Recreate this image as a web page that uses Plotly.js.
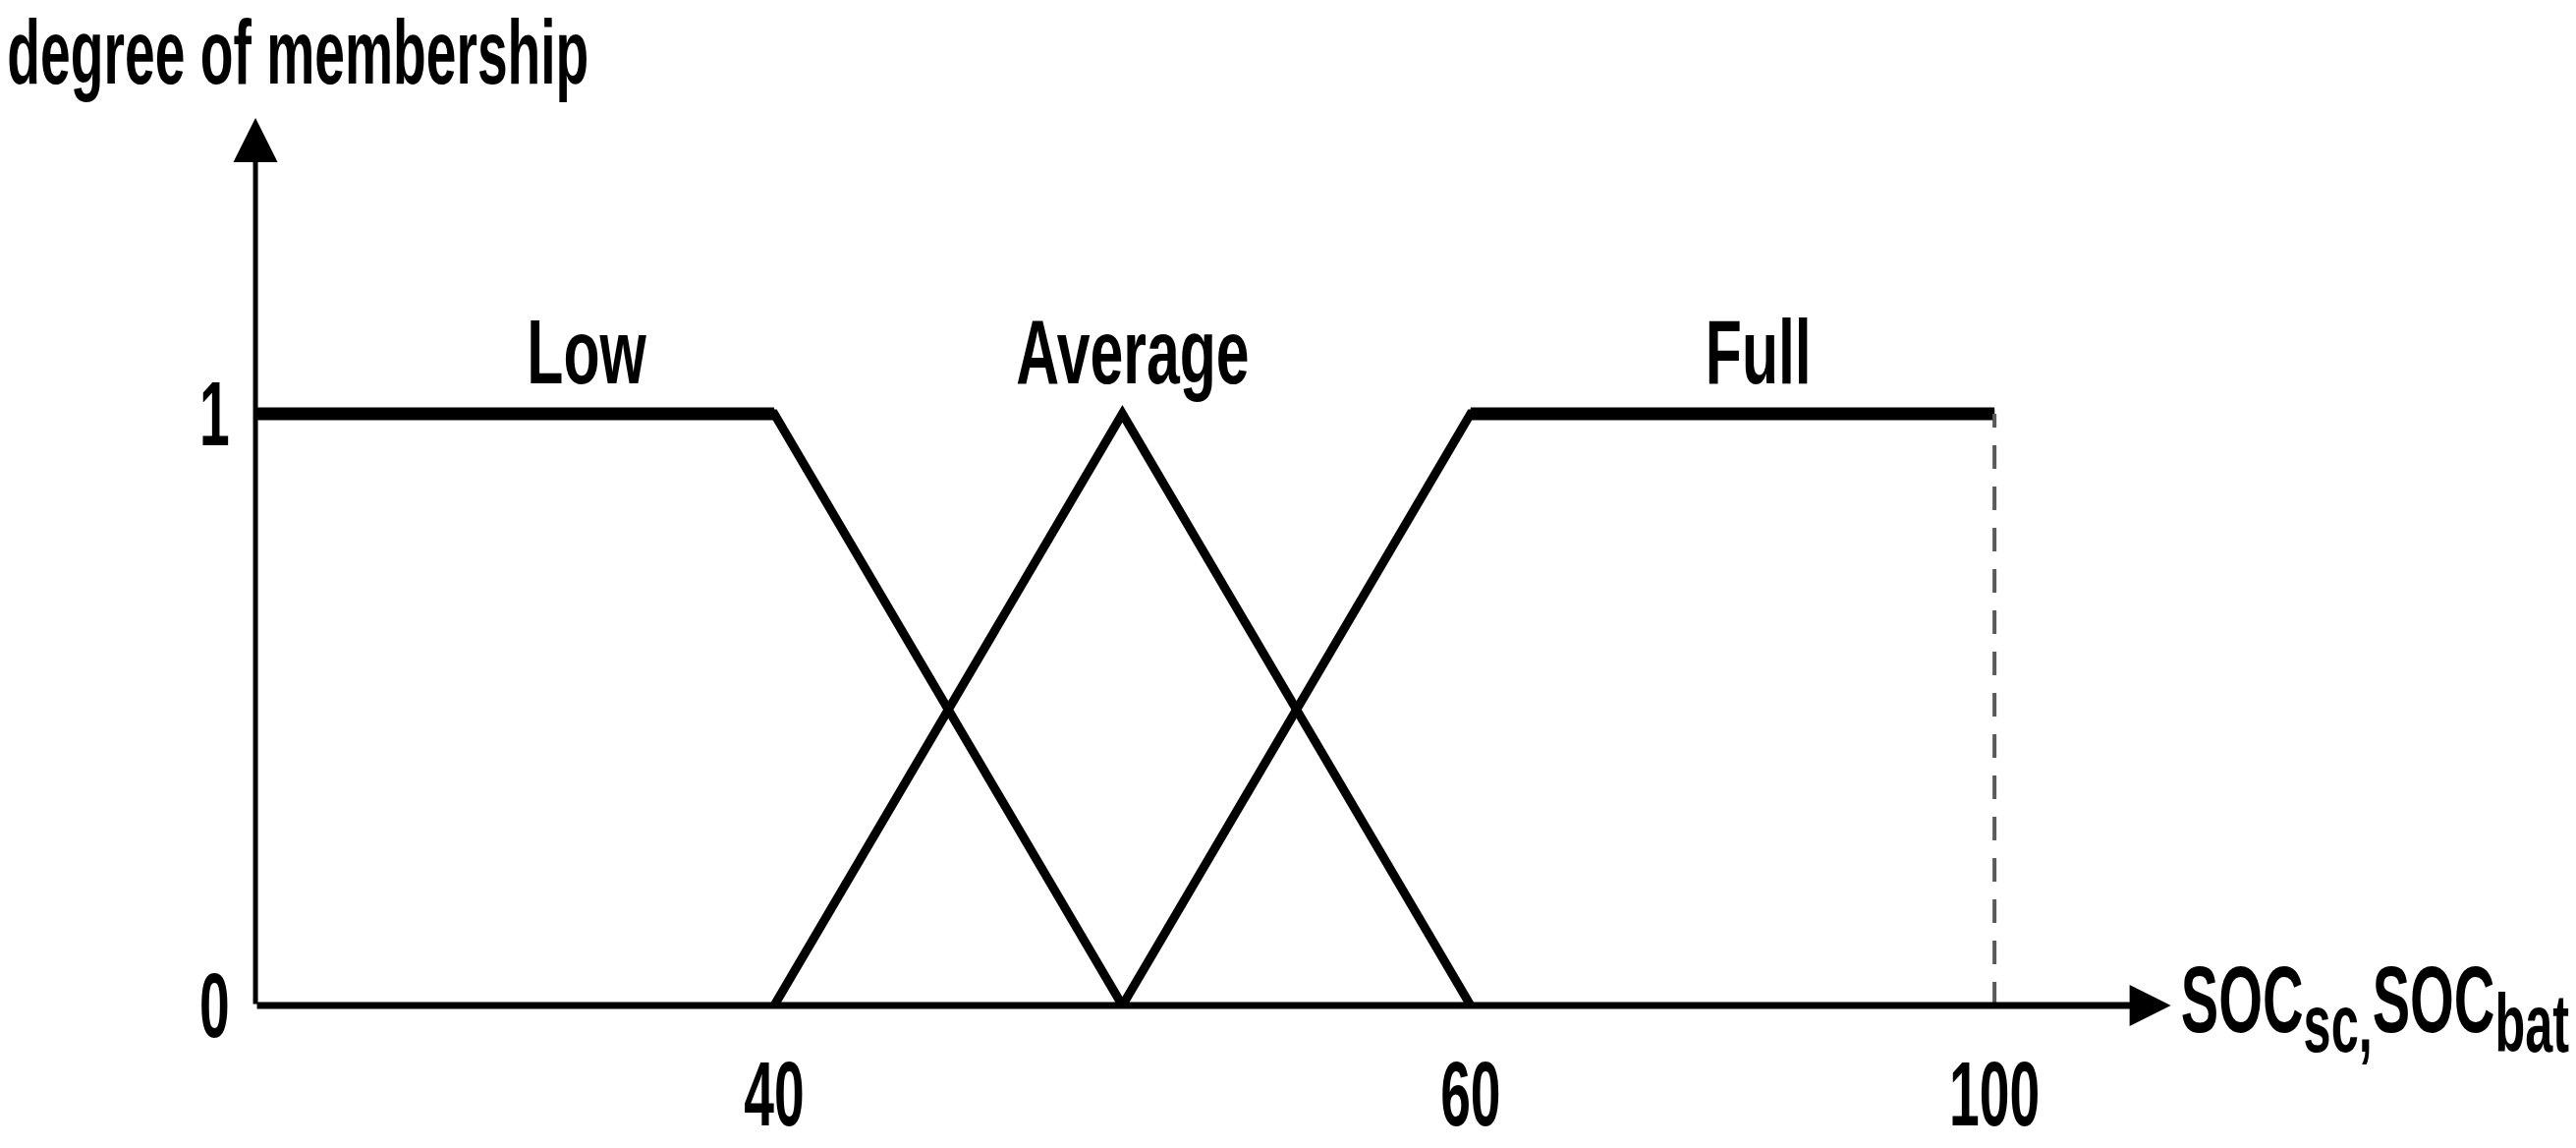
<!DOCTYPE html>
<html>
<head>
<meta charset="utf-8">
<script src="https://cdn.plot.ly/plotly-3.0.1.min.js"></script>
<style>
  html, body { margin: 0; padding: 0; background: #ffffff; }
  #chart { width: 2622px; height: 1168px; }
  /* the original lettering is a tall, condensed bold face */
  #chart text.annotation-text, #chart g.xtick, #chart g.ytick {
    transform-box: fill-box;
    transform-origin: center;
    transform: scaleX(0.6);
  }
</style>
</head>
<body>
<div id="chart"></div>
<script>
// ---- data -------------------------------------------------------------
// membership functions (SOC in %, degree of membership 0..1)
const lowSoc = [0, 40, 50];
const lowMu  = [1, 1, 0];
const avgSoc = [40, 50, 60];
const avgMu  = [0, 1, 0];
const fullSoc = [50, 60, 100];
const fullMu  = [0, 1, 1];
const fullLimitSoc = [100, 100];
const fullLimitMu  = [0, 1];

const setNames = ["Low", "Average", "Full"];

const xTickSoc  = [40, 60, 100];
const xTickText = ["40", "60", "100"];
const yTickVals = [0, 1];
const yTickText = ["0", "1"];

// the figure's SOC axis is schematic (not to scale): piecewise-linear knots
const socKnots  = [0, 40, 60, 100];
const axisKnots = [0, 40, 93.7, 134.1];

// ---- scale helper ------------------------------------------------------
function warp(s) {
  for (let i = 0; i < socKnots.length - 1; i++) {
    const a = socKnots[i], b = socKnots[i + 1];
    if (s <= b || i === socKnots.length - 2) {
      return axisKnots[i] + (s - a) * (axisKnots[i + 1] - axisKnots[i]) / (b - a);
    }
  }
}
const W = arr => arr.map(warp);

// ---- layout options ----------------------------------------------------
const FONT = "Liberation Sans, Arial, sans-serif";
const labelSoc = [25.5, 50.3, 82];
const xArrowEnd = 147.7;   // axis units
const yArrowEnd = 1.5;

const black = "#000000";
const slopeW = 9, plateauW = 13;

const traces = [
  { x: W(lowSoc),  y: lowMu,  mode: "lines", line: { color: black, width: slopeW } },
  { x: W(avgSoc),  y: avgMu,  mode: "lines", line: { color: black, width: slopeW } },
  { x: W(fullSoc), y: fullMu, mode: "lines", line: { color: black, width: slopeW } },
  // heavier plateaus
  { x: W(lowSoc.slice(0, 2)),  y: lowMu.slice(0, 2),  mode: "lines", line: { color: black, width: plateauW } },
  { x: W(fullSoc.slice(1, 3)), y: fullMu.slice(1, 3), mode: "lines", line: { color: black, width: plateauW } },
  { x: W(fullLimitSoc), y: fullLimitMu, mode: "lines",
    line: { color: "#5a5a5a", width: 4, dash: "24px,18px" } }
];

const annotations = [];
setNames.forEach((n, i) => {
  annotations.push({
    x: warp(labelSoc[i]), y: 1, xref: "x", yref: "y",
    text: n, showarrow: false, xanchor: "center", yanchor: "bottom", yshift: 10,
    font: { family: FONT, size: 92, color: black, weight: "bold" }
  });
});
annotations.push({
  xref: "paper", yref: "paper", x: 303 / 2622, y: 1, xanchor: "center", yanchor: "top",
  text: "degree of membership", showarrow: false,
  font: { family: FONT, size: 92, color: black, weight: "bold" }
});
annotations.push({
  xref: "paper", yref: "paper", x: 2417 / 2622, y: 0.1772, xanchor: "center", yanchor: "top",
  text: 'SOC<sub><span style="font-size:84px">sc,</span></sub>SOC<sub><span style="font-size:84px">bat</span></sub>',
  showarrow: false,
  font: { family: FONT, size: 96, color: black, weight: "bold" }
});
// axis arrows
annotations.push({
  x: xArrowEnd, y: 0, ax: 0, ay: 0, xref: "x", yref: "y", axref: "x", ayref: "y",
  text: "", showarrow: true, arrowhead: 2, arrowsize: 1.2, arrowwidth: 7,
  arrowcolor: black, standoff: 0
});
annotations.push({
  x: 0, y: yArrowEnd, ax: 0, ay: 0, xref: "x", yref: "y", axref: "x", ayref: "y",
  text: "", showarrow: true, arrowhead: 2, arrowsize: 1.8, arrowwidth: 5,
  arrowcolor: black, standoff: 0
});

const layout = {
  width: 2622, height: 1168,
  margin: { l: 0, r: 0, t: 0, b: 0, pad: 0 },
  paper_bgcolor: "#ffffff", plot_bgcolor: "#ffffff",
  showlegend: false,
  xaxis: {
    range: [-19.7, 178.94], anchor: "free", position: 145 / 1168,
    showgrid: false, zeroline: false, showline: false, ticks: "",
    tickmode: "array", tickvals: W(xTickSoc), ticktext: xTickText,
    ticklabelstandoff: 29,
    tickfont: { family: FONT, size: 92, color: black, weight: "bold" }
  },
  yaxis: {
    range: [-0.2409, 1.6993], anchor: "free", position: 260 / 2622,
    showgrid: false, zeroline: false, showline: false, ticks: "",
    tickmode: "array", tickvals: yTickVals, ticktext: yTickText,
    ticklabelstandoff: 16,
    tickfont: { family: FONT, size: 92, color: black, weight: "bold" }
  },
  annotations: annotations
};

Plotly.newPlot("chart", traces, layout, { displayModeBar: false, staticPlot: true })
  .then(gd => {
    // the set names are set a little wider than the other lettering
    gd.querySelectorAll("g.annotation").forEach(g => {
      const i = +g.getAttribute("data-index");
      if (i < setNames.length) {
        const t = g.querySelector("text.annotation-text");
        if (t) t.style.transform = "scaleX(0.66)";
      }
    });
  });
</script>
</body>
</html>
